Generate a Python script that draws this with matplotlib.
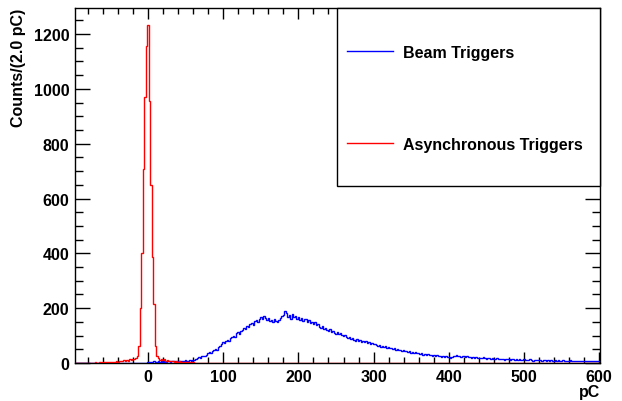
import numpy as np
import matplotlib
matplotlib.use("Agg")
import matplotlib.pyplot as plt
from matplotlib.patches import Rectangle
from matplotlib.ticker import MultipleLocator

plt.rcParams['font.family'] = ['Liberation Sans', 'DejaVu Sans']
plt.rcParams['font.weight'] = 'bold'

# histogram binning (2 pC bins)
x_min, x_max, bin_width = -97, 601, 2

# Asynchronous triggers (red): bin centres -96 ... 600
red_counts = [
    0, 0, 1, 0, 0, 1, 0, 1, 0, 1,
    1, 0, 1, 2, 1, 1, 2, 1, 3, 2,
    2, 3, 4, 3, 5, 4, 3, 6, 5, 7,
    6, 8, 10, 7, 12, 9, 14, 11, 16, 13,
    18, 25, 63, 200, 400, 708, 970, 1158, 1233, 955,
    650, 386, 214, 63, 27, 18, 12, 15, 10, 13,
    8, 11, 7, 9, 6, 8, 5, 7, 4, 6,
    3, 5, 3, 2, 4, 2, 3, 1, 2, 1,
    1, 0, 1, 0, 0, 1, 0, 0, 0, 0,
]
red_counts = red_counts + [0] * (349 - len(red_counts))

# Beam triggers (blue): zero below 0 pC, then bin centres 0 ... 600
blue_neg = [0] * 48
blue_pos = [
    4, 2, 5, 3, 6, 4, 5, 7, 4, 6,
    5, 7, 4, 6, 8, 5, 7, 6, 8, 5,
    7, 9, 6, 8, 7, 10, 8, 9, 11, 8,
    12, 10, 14, 18, 22, 19, 24, 27, 25, 31,
    36, 40, 38, 45, 49, 52, 48, 57, 62, 70,
    76, 72, 81, 85, 79, 90, 94, 99, 96, 108,
    112, 106, 118, 122, 128, 124, 136, 132, 141, 146,
    139, 152, 158, 149, 162, 168, 160, 171, 165, 158,
    163, 152, 158, 150, 161, 155, 148, 157, 164, 170,
    176, 191, 183, 168, 174, 162, 178, 166, 172, 160,
    169, 158, 165, 154, 160, 162, 151, 156, 146, 150,
    143, 148, 138, 141, 132, 127, 134, 124, 129, 120,
    118, 123, 114, 117, 110, 106, 112, 104, 108, 101,
    98, 103, 94, 90, 96, 88, 92, 85, 82, 87,
    81, 84, 78, 80, 76, 79, 72, 75, 70, 73,
    68, 71, 65, 62, 66, 60, 63, 57, 61, 55,
    58, 53, 56, 50, 54, 48, 51, 46, 49, 44,
    47, 42, 45, 40, 43, 38, 41, 36, 39, 35,
    37, 33, 36, 31, 34, 30, 32, 28, 31, 27,
    29, 26, 28, 24, 27, 23, 25, 22, 24, 21,
    23, 20, 22, 26, 24, 28, 25, 27, 23, 26,
    24, 22, 25, 21, 23, 20, 22, 19, 21, 18,
    20, 17, 19, 21, 18, 16, 19, 17, 15, 18,
    16, 14, 17, 15, 13, 16, 14, 12, 15, 13,
    14, 12, 15, 13, 11, 14, 12, 13, 11, 12,
    13, 11, 12, 10, 13, 11, 9, 12, 10, 11,
    10, 12, 9, 11, 10, 8, 11, 9, 10, 8,
    9, 11, 8, 10, 9, 7, 10, 8, 9, 7,
    8, 10, 7, 9, 8, 6, 9, 7, 8, 6,
    8, 7, 9, 6, 8, 7, 6, 8, 7, 6,
    7,
]
blue_counts = blue_neg + blue_pos

labels = ["Beam Triggers", "Asynchronous Triggers"]
x_ticks = [0, 100, 200, 300, 400, 500, 600]
y_ticks = [0, 200, 400, 600, 800, 1000, 1200]

edges = np.arange(x_min, x_max + bin_width / 2, bin_width)
FS = 11.5

fig = plt.figure(figsize=(6.22, 4.02), dpi=100)
ax = fig.add_axes([75 / 622, 1 - 364 / 402, 525 / 622, 355 / 402])

ax.stairs(blue_counts, edges, color='#0000ff', lw=1.0, zorder=3)
ax.stairs(red_counts, edges, color='#ff0000', lw=1.0, zorder=4)

ax.set_xlim(x_min, x_max)
ax.set_ylim(0, 1295)
ax.set_xticks(x_ticks)
ax.set_yticks(y_ticks)
ax.xaxis.set_minor_locator(MultipleLocator(20))
ax.yaxis.set_minor_locator(MultipleLocator(50))
ax.tick_params(axis='both', which='both', direction='in', top=True, right=True,
               width=1.0, labelsize=FS, colors='black')
ax.tick_params(axis='x', which='major', length=8, pad=4)
ax.tick_params(axis='x', which='minor', length=4)
ax.tick_params(axis='y', which='major', length=11, pad=4)
ax.tick_params(axis='y', which='minor', length=5.5)
for lab in ax.get_xticklabels() + ax.get_yticklabels():
    lab.set_fontweight('bold')
for sp in ax.spines.values():
    sp.set_linewidth(1.0)
    sp.set_zorder(2)

ax.set_xlabel("pC", fontsize=FS, fontweight='bold', loc='right')
ax.xaxis.set_label_coords(1.0, -0.058)
ax.set_ylabel("Counts/(2.0 pC)", fontsize=FS, fontweight='bold', loc='top')
ax.yaxis.set_label_coords(-0.093, 1.0)
ax.yaxis.label.set_horizontalalignment('right')
ax.yaxis.label.set_verticalalignment('bottom')
ax.yaxis.label.set_rotation_mode('anchor')

# legend box (ROOT style)
lx0 = (337 - 75) / 525
ly0 = (364 - 187) / 355
ax.add_patch(Rectangle((lx0, ly0), 1 - lx0, 1 - ly0, transform=ax.transAxes,
                       fill=True, facecolor='white', edgecolor='black', lw=1.0,
                       zorder=5, clip_on=False))
handles = [plt.Line2D([], [], color='#0000ff', lw=1.0),
           plt.Line2D([], [], color='#ff0000', lw=1.0)]
leg = ax.legend(handles, labels, loc='upper left',
                bbox_to_anchor=((347 - 75) / 525, (364 - 46) / 355),
                frameon=False, borderpad=0, borderaxespad=0,
                handlelength=2.85, handletextpad=0.65, labelspacing=4.8,
                prop={'family': ['Liberation Sans', 'DejaVu Sans'],
                      'weight': 'bold', 'size': FS})
leg.set_zorder(6)

fig.savefig("out.png", dpi=100)
